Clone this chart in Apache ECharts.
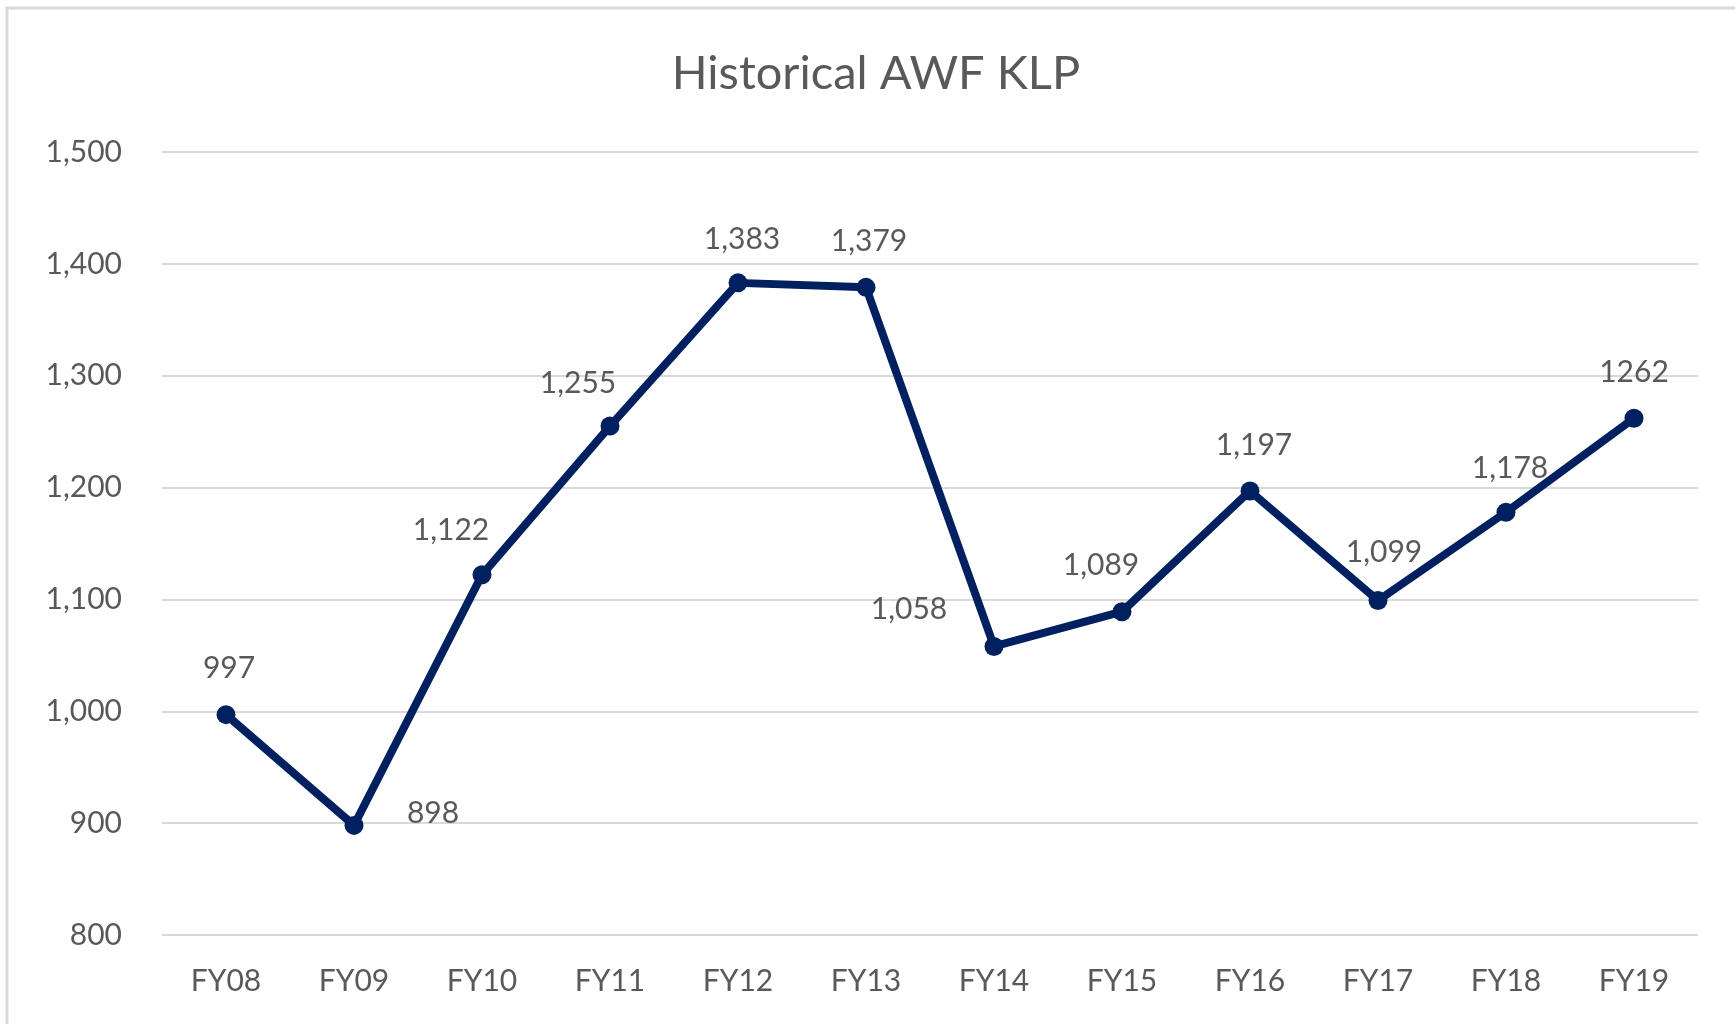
<!DOCTYPE html>
<html>
<head>
<meta charset="utf-8">
<script src="https://cdn.jsdelivr.net/npm/echarts@6/dist/echarts.min.js"></script>
<style>
  html, body { margin: 0; padding: 0; background: #fff; }
  #chart { width: 1735px; height: 1024px; }
</style>
</head>
<body>
<div id="chart"></div>
<script>
const years = ['FY08', 'FY09', 'FY10', 'FY11', 'FY12', 'FY13', 'FY14', 'FY15', 'FY16', 'FY17', 'FY18', 'FY19'];
const klp = [997, 898, 1122, 1255, 1383, 1379, 1058, 1089, 1197, 1099, 1178, 1262];
// label texts as printed in the chart (last one has no comma)
const klpLabels = ['997', '898', '1,122', '1,255', '1,383', '1,379', '1,058', '1,089', '1,197', '1,099', '1,178', '1262'];

// where each data label sits relative to its point
const labelOffsets = [
  [3, -46], [79, -12], [-31, -44], [-32, -43], [4, -44], [3, -46],
  [-85, -37], [-21, -46], [4, -46], [6, -48], [4, -44], [0, -46]
];

const textColor = '#595959';
const font = 'Lato';

const myChart = echarts.init(document.getElementById('chart'));

const option = {
  backgroundColor: '#fff',
  animation: false,
  title: {
    text: 'Historical AWF KLP',
    left: 871,
    top: 45,
    textAlign: 'center',
    textStyle: { fontFamily: font, fontSize: 47, fontWeight: 'normal', color: textColor }
  },
  graphic: [{
    type: 'rect',
    shape: { x: 7, y: 8, width: 1800, height: 1100 },
    style: { fill: null, stroke: '#d9d9d9', lineWidth: 3 },
    silent: true
  }],
  grid: { left: 162, right: 37, top: 152, bottom: 89 },
  xAxis: {
    type: 'category',
    data: years,
    axisLine: { show: false },
    axisTick: { show: false },
    axisLabel: { margin: 31, fontFamily: font, fontSize: 30, color: textColor }
  },
  yAxis: {
    type: 'value',
    min: 800,
    max: 1500,
    interval: 100,
    axisLine: { show: false },
    axisTick: { show: false },
    splitLine: { lineStyle: { color: '#d9d9d9', width: 2 } },
    axisLabel: {
      margin: 40,
      fontFamily: font, fontSize: 30, color: textColor,
      formatter: function (v) { return v.toLocaleString('en-US'); }
    }
  },
  series: [{
    type: 'line',
    data: klp.map(function (v, i) {
      return {
        value: v,
        label: { offset: labelOffsets[i], formatter: klpLabels[i] }
      };
    }),
    symbol: 'circle',
    symbolSize: 19,
    itemStyle: { color: '#002060' },
    lineStyle: { color: '#002060', width: 8 },
    label: {
      show: true,
      position: 'inside',
      fontFamily: font,
      fontSize: 30,
      color: textColor
    }
  }]
};

myChart.setOption(option);
</script>
</body>
</html>
